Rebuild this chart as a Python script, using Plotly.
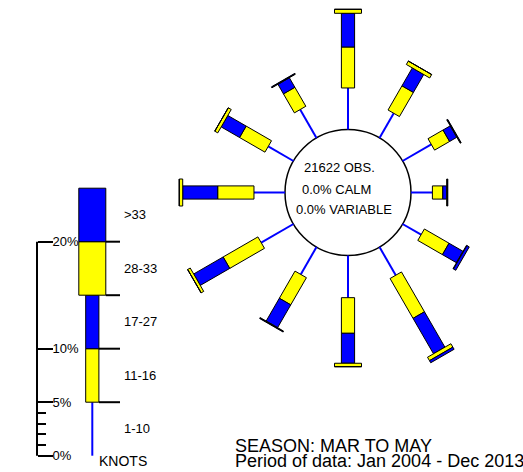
import numpy as np
import plotly.graph_objects as go

# Wind rose: percentage frequency by direction (deg true) and speed class (knots)
directions = [0, 30, 60, 90, 120, 150, 180, 210, 240, 270, 300, 330]
speed_classes = ["1-10", "11-16", "17-27", "28-33", ">33"]
pct_1_10 = [3.88, 2.66, 3.10, 2.00, 2.00, 3.04, 3.94, 2.95, 3.48, 2.90, 2.72, 3.06]
pct_11_16 = [3.83, 2.61, 1.62, 0.97, 2.66, 4.30, 3.33, 2.93, 3.75, 3.39, 2.74, 2.05]
pct_17_27 = [3.15, 1.93, 0.78, 0.37, 1.51, 3.82, 2.80, 2.46, 3.18, 3.27, 1.98, 1.03]
pct_28_33 = [0.37, 0.37, 0.05, 0.05, 0.05, 0.37, 0.32, 0.05, 0.28, 0.32, 0.32, 0.05]
pct_gt_33 = [0.00, 0.00, 0.05, 0.05, 0.25, 0.23, 0.00, 0.05, 0.00, 0.00, 0.00, 0.05]

# Key: every speed class drawn as a 5% segment
key_lengths = [5, 5, 5, 5, 5]
scale_ticks = [0, 5, 10, 20]
scale_labels = ["0%", "5%", "10%", "20%"]
scale_minor = [1, 2, 3, 4]

n_obs = 21622
calm_pct = 0.0
variable_pct = 0.0
season = "MAR TO MAY"
period = "Jan 2004 - Dec 2013"

# ---- page geometry: axes run in percent units, same scale on x and y ----
W, H = 523, 472
S = 10.7          # pixels per percent
Y0 = 455.7        # pixel row of the 0% level


def X(px):
    return px / S


def Y(py):
    return (Y0 - py) / S


BLUE = "#0000FF"
YELLOW = "#FFFF00"
FONT = "Liberation Sans, Arial, sans-serif"

NARROW = 6.6 / S   # half width of the 11-27 kt bars
WIDE = 13.5 / S    # half width of the 28+ kt bars
class_style = [
    (None, BLUE),      # 1-10: plain line
    (NARROW, YELLOW),  # 11-16
    (NARROW, BLUE),    # 17-27
    (WIDE, YELLOW),    # 28-33
    (WIDE, BLUE),      # >33
]

rose_cx, rose_cy = X(348), Y(192.5)
calm_r = 63 / S
key_x = X(92.3)


def spoke(cx, cy, theta_deg, r0, lengths, lines, boxes):
    """Append the line and box polygons for one spoke."""
    th = np.radians(theta_deg)
    u = np.array([np.sin(th), np.cos(th)])
    p = np.array([np.cos(th), -np.sin(th)])
    c = np.array([cx, cy])
    r = r0
    for k, length in enumerate(lengths):
        half, _ = class_style[k]
        a, b = r, r + length
        if half is None:
            p0, p1 = c + u * a, c + u * b
            lines["x"] += [p0[0], p1[0], None]
            lines["y"] += [p0[1], p1[1], None]
        else:
            pts = [c + u * a + p * half, c + u * b + p * half,
                   c + u * b - p * half, c + u * a - p * half,
                   c + u * a + p * half]
            boxes[k]["x"] += [q[0] for q in pts] + [None]
            boxes[k]["y"] += [q[1] for q in pts] + [None]
        r = b


lines = {"x": [], "y": []}
boxes = {k: {"x": [], "y": []} for k in range(1, 5)}

for i, d in enumerate(directions):
    lengths = [pct_1_10[i], pct_11_16[i], pct_17_27[i], pct_28_33[i], pct_gt_33[i]]
    spoke(rose_cx, rose_cy, d, calm_r, lengths, lines, boxes)

# the key bar, pointing straight up from 0%
spoke(key_x, 0.0, 0, 0.0, key_lengths, lines, boxes)

fig = go.Figure()
fig.add_trace(go.Scatter(x=lines["x"], y=lines["y"], mode="lines",
                         line=dict(color=BLUE, width=2), hoverinfo="skip",
                         showlegend=False))
for k in range(1, 5):
    fig.add_trace(go.Scatter(x=boxes[k]["x"], y=boxes[k]["y"], mode="lines",
                             fill="toself", fillcolor=class_style[k][1],
                             line=dict(color="black", width=1),
                             hoverinfo="skip", showlegend=False))

shapes = []
# calm circle
shapes.append(dict(type="circle", xref="x", yref="y",
                   x0=rose_cx - calm_r, x1=rose_cx + calm_r,
                   y0=rose_cy - calm_r, y1=rose_cy + calm_r,
                   line=dict(color="black", width=1.5), fillcolor="white",
                   layer="below"))
# scale line of the key
axis_x = X(37)
shapes.append(dict(type="line", xref="x", yref="y", x0=axis_x, x1=axis_x,
                   y0=scale_ticks[0], y1=scale_ticks[-1],
                   line=dict(color="black", width=2)))
# class boundary lines beside the key
bounds = np.cumsum(key_lengths)[:-1]
for k, b in enumerate(bounds):
    half = class_style[k + 1][0]
    shapes.append(dict(type="line", xref="x", yref="y",
                       x0=key_x + half, x1=X(120), y0=b, y1=b,
                       line=dict(color="black", width=2)))

annotations = []
# class labels next to the key
starts = np.concatenate([[0], np.cumsum(key_lengths)[:-1]])
for name, s0, ln in zip(speed_classes, starts, key_lengths):
    annotations.append(dict(x=X(121.5), y=s0 + ln / 2, xref="x", yref="y",
                            text=name, showarrow=False, xanchor="left",
                            yanchor="middle",
                            font=dict(size=13, color="black", family=FONT)))
annotations.append(dict(x=X(96.5), y=Y(461), xref="x", yref="y", text="KNOTS",
                        showarrow=False, xanchor="left", yanchor="middle",
                        font=dict(size=14, color="black", family=FONT)))

# text inside the calm circle
circle_text = [
    (f"{n_obs} OBS.", 339.5, 167),
    (f"{calm_pct:.1f}% CALM", 336.7, 189.5),
    (f"{variable_pct:.1f}% VARIABLE", 343.5, 209.5),
]
for txt, px, py in circle_text:
    annotations.append(dict(x=X(px), y=Y(py), xref="x", yref="y", text=txt,
                            showarrow=False, xanchor="center", yanchor="middle",
                            font=dict(size=13, color="black", family=FONT)))

# season / period caption
annotations.append(dict(x=233 / W, y=1 - 446 / H, xref="paper", yref="paper",
                        text=f"SEASON: {season}", showarrow=False,
                        xanchor="left", yanchor="middle",
                        font=dict(size=18, color="black", family=FONT)))
annotations.append(dict(x=233 / W, y=1 - 460.5 / H, xref="paper", yref="paper",
                        text=f"Period of data: {period}", showarrow=False,
                        xanchor="left", yanchor="middle",
                        font=dict(size=18, color="black", family=FONT)))

fig.update_layout(
    width=W, height=H, autosize=False,
    margin=dict(l=0, r=0, t=0, b=0, pad=0),
    paper_bgcolor="white", plot_bgcolor="white",
    shapes=shapes, annotations=annotations,
    showlegend=False,
    xaxis=dict(range=[0, W / S], visible=False, fixedrange=True),
    yaxis=dict(range=[Y(H), Y(0)], showgrid=False, zeroline=False,
               showline=False, side="right", anchor="free",
               position=37 / W, ticks="outside", ticklen=15, tickwidth=2,
               tickcolor="black", tickmode="array", tickvals=scale_ticks,
               ticktext=scale_labels, ticklabelstandoff=-3,
               tickfont=dict(size=13, color="black", family=FONT),
               minor=dict(tickmode="array", tickvals=scale_minor,
                          ticks="outside", ticklen=8, tickwidth=2,
                          tickcolor="black", showgrid=False),
               fixedrange=True),
)

fig.write_html("out.html", config={"displayModeBar": False})
